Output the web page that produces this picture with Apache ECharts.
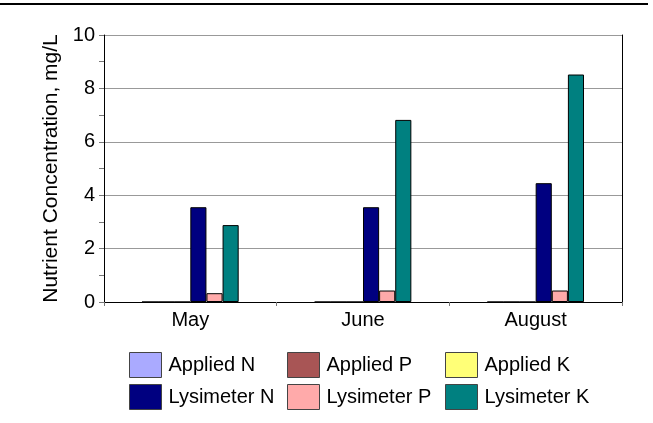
<!DOCTYPE html>
<html>
<head>
<meta charset="utf-8">
<script src="https://cdn.jsdelivr.net/npm/echarts@6/dist/echarts.min.js"></script>
<style>
  html, body { margin: 0; padding: 0; background: #fff; }
  #chart { width: 653px; height: 423px; }
</style>
</head>
<body>
<div id="chart"></div>
<script>
var months = ["May", "June", "August"];
var appliedN = [0, 0, 0];
var appliedP = [0, 0, 0];
var appliedK = [0, 0, 0];
var lysimeterN = [3.55, 3.55, 4.45];
var lysimeterP = [0.33, 0.43, 0.43];
var lysimeterK = [2.88, 6.82, 8.52];

var seriesNames = ["Applied N", "Applied P", "Applied K", "Lysimeter N", "Lysimeter P", "Lysimeter K"];
var seriesData = [appliedN, appliedP, appliedK, lysimeterN, lysimeterP, lysimeterK];
var colors = ["#aaaaff", "#a85555", "#ffff77", "#000080", "#ffaaaa", "#008080"];

var font = "Liberation Sans, Arial, sans-serif";
var chart = echarts.init(document.getElementById("chart"));

var series = seriesNames.map(function (name, i) {
  return {
    name: name,
    type: "bar",
    data: seriesData[i],
    barGap: 0,
    barCategoryGap: "44%",
    itemStyle: { color: colors[i], borderColor: "#000", borderWidth: 1 }
  };
});

// one legend per column so the two rows line up
function legendCol(names, left) {
  return {
    orient: "vertical",
    left: left,
    top: 352,
    padding: 0,
    data: names,
    itemWidth: 32,
    itemHeight: 25,
    itemGap: 6,
    icon: "rect",
    itemStyle: { borderColor: "#444", borderWidth: 1 },
    textStyle: { fontFamily: font, fontSize: 20, color: "#000", padding: [0, 0, 0, 2] }
  };
}

var option = {
  animation: false,
  backgroundColor: "#fff",
  color: colors,
  grid: { left: 104, right: 31, top: 35, bottom: 121, containLabel: false },
  legend: [
    legendCol(["Applied N", "Lysimeter N"], 129),
    legendCol(["Applied P", "Lysimeter P"], 287),
    legendCol(["Applied K", "Lysimeter K"], 445)
  ],
  xAxis: {
    type: "category",
    data: months,
    axisLine: { lineStyle: { color: "#000", width: 1 } },
    axisTick: { show: true, alignWithLabel: false, length: 4, lineStyle: { color: "#777" } },
    axisLabel: { fontFamily: font, fontSize: 20, color: "#000", margin: 8 }
  },
  yAxis: [
    {
      type: "value",
      min: 0,
      max: 10,
      interval: 2,
      name: "Nutrient Concentration, mg/L",
      nameLocation: "middle",
      nameGap: 42,
      nameTextStyle: { fontFamily: font, fontSize: 21, color: "#000" },
      axisLine: { show: true, lineStyle: { color: "#000", width: 1 } },
      axisTick: { show: true, length: 5, lineStyle: { color: "#777" } },
      minorTick: { show: true, splitNumber: 2, length: 5, lineStyle: { color: "#777" } },
      axisLabel: { fontFamily: font, fontSize: 20, color: "#000", margin: 9 },
      splitLine: { show: true, lineStyle: { color: "#999", width: 1 } }
    },
    {
      type: "value",
      position: "right",
      min: 0,
      max: 10,
      axisLine: { show: true, lineStyle: { color: "#000", width: 1 } },
      axisTick: { show: false },
      axisLabel: { show: false },
      splitLine: { show: false }
    }
  ],
  graphic: [
    {
      type: "line",
      shape: { x1: 0, y1: 4, x2: 648, y2: 4 },
      style: { stroke: "#000", lineWidth: 2 }
    }
  ],
  series: series
};

chart.setOption(option);
</script>
</body>
</html>
